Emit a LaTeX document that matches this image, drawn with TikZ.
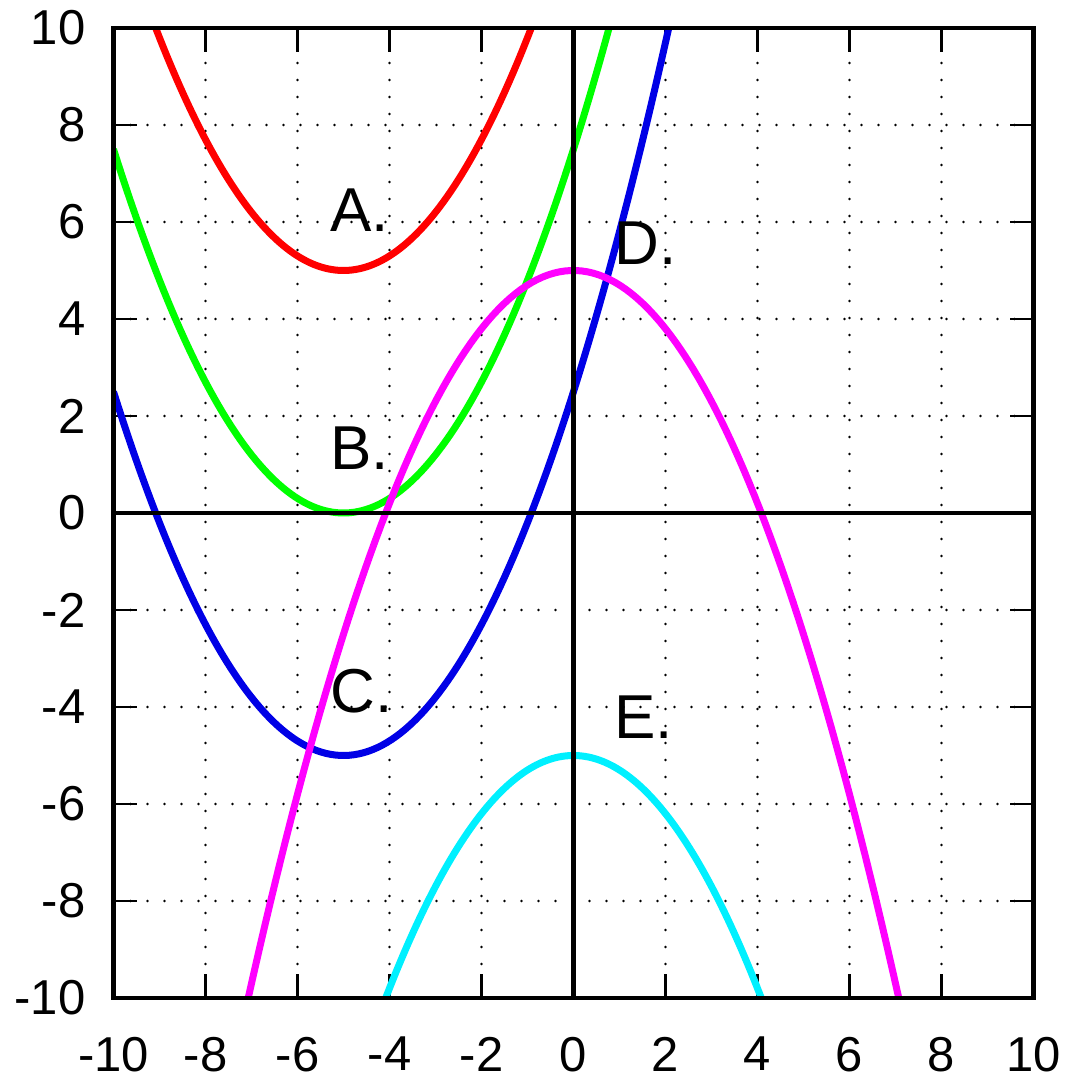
\documentclass[tikz,border=0pt]{standalone}
\usepackage{fontspec}
\setmainfont{Liberation Sans}
\usetikzlibrary{positioning}
\definecolor{CurveRed}{RGB}{255,0,0}
\definecolor{CurveGreen}{RGB}{0,255,0}
\definecolor{CurveBlue}{RGB}{0,0,230}
\definecolor{CurveMagenta}{RGB}{255,0,255}
\definecolor{CurveCyan}{RGB}{0,240,255}
\begin{document}
\begin{tikzpicture}[x=23pt, y=24.25pt,
  every node/.style={inner sep=0pt, font=\fontsize{24.5}{29}\selectfont},
  gridline/.style={line width=1.3pt, line cap=round, dash pattern=on 0pt off 8.5pt},
  tickmark/.style={line width=1.3pt},
  curve/.style={line width=3.5pt, samples=120},
  frame/.style={line width=2.1pt},
  letter/.style={anchor=base west, font=\fontsize{31}{36}\selectfont}]
\useasboundingbox (-12.467,-11.732) rectangle (10.859,10.577);
% grid and ticks
\foreach \v in {-8,-6,...,8} {
  \draw[gridline] (\v,-10) -- (\v,10);
  \draw[gridline] (-10,\v) -- (10,\v);
  \draw[tickmark] (\v,-10) -- ++(0,12pt);
  \draw[tickmark] (\v,10) -- ++(0,-12pt);
  \draw[tickmark] (-10,\v) -- ++(12pt,0);
  \draw[tickmark] (10,\v) -- ++(-12pt,0);
}
\foreach \v in {-10,-8,...,10} {
  \node[anchor=east] (yl\v) at (-10.6,\v) {\v};
  \node[anchor=north] (xl\v) at (\v,-10.8) {\v};
}
% curves
\begin{scope}
\clip (-10,-10) rectangle (10,10);
\draw[curve, CurveRed] plot[domain=-9.2:-0.8] (\x,{0.3*(\x+5)*(\x+5)+5});
\draw[curve, CurveGreen] plot[domain=-10:0.9] (\x,{0.3*(\x+5)*(\x+5)});
\draw[curve, CurveBlue] plot[domain=-10:2.2] (\x,{0.3*(\x+5)*(\x+5)-5});
\draw[curve, CurveMagenta] plot[domain=-7.2:7.2] (\x,{-0.3*(\x)*(\x)+5});
\draw[curve, CurveCyan] plot[domain=-4.2:4.2] (\x,{-0.3*(\x)*(\x)-5});
\end{scope}
% axes and frame
\draw[frame] (-10,0) -- (10,0);
\draw[frame] (0,-10) -- (0,10);
\draw[frame] (-10,-10) rectangle (10,10);
% labels
\node[letter] (labA) at (-5.29,5.81) {A.};
\node[letter] (labB) at (-5.29,0.89) {B.};
\node[letter] (labC) at (-5.29,-4.12) {C.};
\node[letter] (labD) at (0.88,5.13) {D.};
\node[letter] (labE) at (0.88,-4.64) {E.};
\end{tikzpicture}
\end{document}
